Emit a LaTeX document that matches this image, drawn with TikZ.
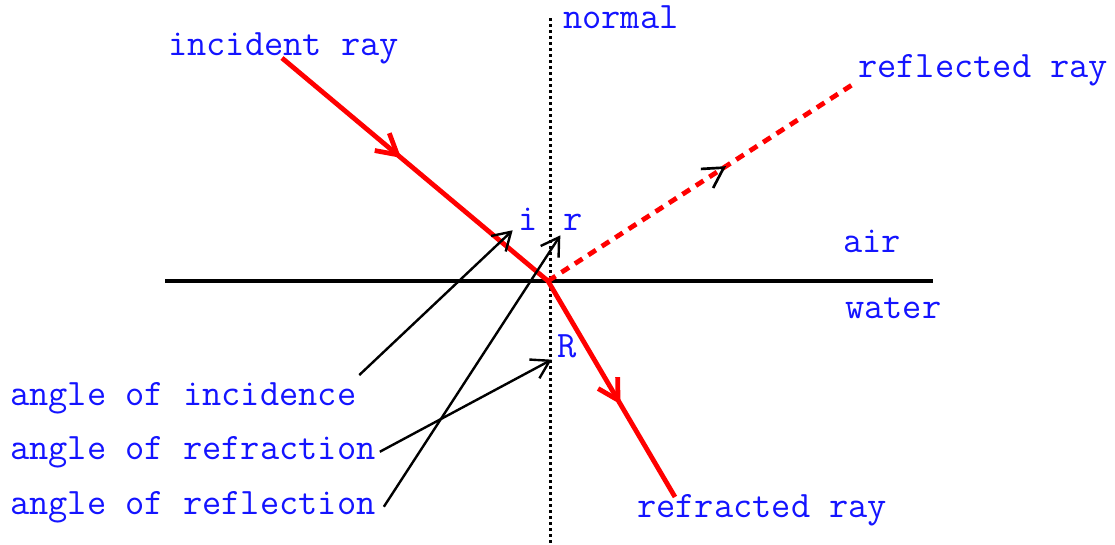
\documentclass[tikz,border=0pt]{standalone}
\definecolor{rayred}{RGB}{255,0,0}
\definecolor{labelblue}{RGB}{20,20,255}
\usepackage{fontspec}
\usepackage{tikz}
\usetikzlibrary{arrows.meta, decorations.markings, positioning, calc}

\tikzset{
  lbl/.style={labelblue, font=\ttfamily\fontsize{28}{32}\selectfont, inner sep=0pt, anchor=base west},
  ray/.style={rayred, line width=3.6pt},
  normalline/.style={line width=2.25pt, dash pattern=on 2.25pt off 2.25pt},
  surface/.style={line width=2.4pt},
  pointer/.style={line width=1.8pt, -{Straight Barb[length=13pt,width=16pt]}},
}

\begin{document}
\begin{tikzpicture}[x=0.75pt, y=-0.75pt]
        \useasboundingbox (0,0) rectangle (1115,544);
        % normal and the air/water boundary
        \draw[normalline] (550,18) -- (550,544);
        \draw[surface] (165,281) -- (933,281);
        % rays
        \coordinate (src) at (282,58);
        \coordinate (hit) at (548,281);
        \coordinate (refrend) at (675,497);
        \coordinate (reflend) at (855,83);
        \draw[ray, postaction={decorate}, decoration={markings,
            mark=at position 0.26 with {\arrow{Straight Barb[length=15pt,width=17pt]}},
            mark=at position 0.82 with {\arrow{Straight Barb[length=15pt,width=17pt]}}}]
          (src) -- (hit) -- (refrend);
        \draw[ray, dash pattern=on 6.75pt off 5.25pt, postaction={decorate}, decoration={markings,
            mark=at position 0.58 with {\arrow[black, line width=2pt]{Straight Barb[length=15pt,width=17pt]}}}]
          (hit) -- (reflend);
        % labels
        \node[lbl] (incray) at (168,55) {incident ray};
        \node[lbl] (normal) at (563,28) {normal};
        \node[lbl] (reflray) at (858,77) {reflected ray};
        \node[lbl] (air) at (843,252) {air};
        \node[lbl] (water) at (845,318) {water};
        \node[lbl] (refrray) at (637,517) {refracted ray};
        \node[lbl] (i) at (518,230) {i};
        \node[lbl] (r) at (563,230) {r};
        \node[lbl] (R) at (557,357) {R};
        \node[lbl] (incid) at (10,405) {angle of incidence};
        \node[lbl] (refrac) at (10,459) {angle of refraction};
        \node[lbl] (reflec) at (10,514) {angle of reflection};
        % pointers to the angles
        \draw[pointer] ([xshift=2pt,yshift=5pt]incid.north east) -- ([xshift=-4pt]i.south west);
        \draw[pointer] ([xshift=3pt]refrac.east) -- ([xshift=-4pt,yshift=-2pt]R.base west);
        \draw[pointer] ([xshift=6pt]reflec.east) -- ([xshift=-2pt,yshift=-4pt]r.base west);
      \end{tikzpicture}
\end{document}
